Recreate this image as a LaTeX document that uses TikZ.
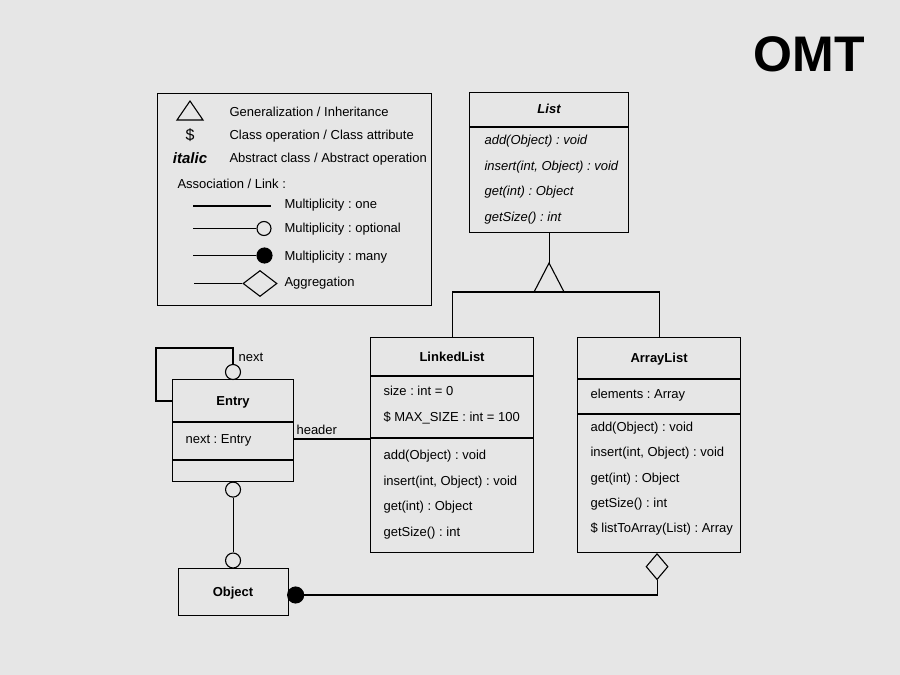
\documentclass[tikz,border=0pt]{standalone}
\usepackage{fontspec}
\setmainfont{Liberation Sans}
\usetikzlibrary{shapes.geometric}
\definecolor{bg}{RGB}{230,230,230}

\begin{document}
\frenchspacing
\fontsize{13}{15}\selectfont
\begin{tikzpicture}[x=1pt, y=-1pt, line width=1.1pt,
  cls/.style={draw, anchor=north west, inner sep=0},
  member/.style={anchor=west, inner sep=0, text height=9, text depth=0},
  cname/.style={inner sep=0, text height=9, text depth=0, font=\bfseries},
  opt/.style={circle, draw, fill=bg, minimum size=15pt, inner sep=0},
  many/.style={circle, draw, fill=black, minimum size=16pt, inner sep=0},
  agg/.style={diamond, draw, fill=bg, inner sep=0}]
\fill[bg] (0,0) rectangle (900,675);

\node[inner sep=0, font=\fontsize{50}{50}\selectfont\bfseries] (omt) at (809,54) {OMT};

\node[draw, anchor=north west, minimum width=274pt, minimum height=212pt, inner sep=0] (legend) at (157,93) {};
\draw (190,101) -- (177,120) -- (203,120) -- cycle;
\node[inner sep=0, font=\fontsize{16}{16}\selectfont] (dollar) at (190,135) {\$};
\node[inner sep=0, font=\fontsize{15}{15}\selectfont\bfseries\itshape] (ital) at (190,158) {italic};
\node[member] (gentxt) at (229,112) {Generalization / Inheritance};
\node[member] (clstxt) at (229,135) {Class operation / Class attribute};
\node[member] (abstxt) at (229,158) {Abstract class / Abstract operation};
\node[member] (assoctxt) at (177,184) {Association / Link :};

\draw (193,206) -- (271,206);
\node[opt, minimum size=14pt] (lopt) at (264,228.5) {};
\draw (193,228.5) -- (lopt);
\node[many, minimum size=15pt] (lmany) at (264.5,255.5) {};
\draw (193,255.5) -- (lmany);
\node[agg, minimum width=34pt, minimum height=26pt] (lagg) at (260,283.5) {};
\draw (194,283.5) -- (lagg);
\node[member] (onetxt) at (284,204) {Multiplicity : one};
\node[member] (opttxt) at (284,228) {Multiplicity : optional};
\node[member] (manytxt) at (284,256) {Multiplicity : many};
\node[member] (aggtxt) at (284,282) {Aggregation};

\node[cls, minimum width=159pt, minimum height=140pt] (list) at (469,92) {};
\draw (list.west |- 0,127) -- (list.east |- 0,127);
\node[cname, font=\bfseries\itshape] (listname) at (list.north |- 0,109) {List};
\foreach \t [count=\i] in {add(Object) : void, {insert(int, Object) : void}, get(int) : Object, getSize() : int}
  \node[member, font=\itshape] (listop\i) at (484, {140+25.5*(\i-1)}) {\t};

\node[cls, minimum width=163pt, minimum height=215pt] (linked) at (370,337) {};
\draw (linked.west |- 0,376) -- (linked.east |- 0,376);
\draw (linked.west |- 0,438) -- (linked.east |- 0,438);
\node[cname] (linkedname) at (linked.north |- 0,357) {LinkedList};
\node[member] (llsize) at (383,391) {size : int = 0};
\node[member] (llmax) at (383,417) {\$ MAX\_SIZE : int = 100};
\foreach \t [count=\i] in {add(Object) : void, {insert(int, Object) : void}, get(int) : Object, getSize() : int}
  \node[member] (llop\i) at (383, {455+25.5*(\i-1)}) {\t};

\node[cls, minimum width=163pt, minimum height=215pt] (array) at (577,337) {};
\draw (array.west |- 0,379) -- (array.east |- 0,379);
\draw (array.west |- 0,414) -- (array.east |- 0,414);
\node[cname] (arrayname) at (array.north |- 0,358) {ArrayList};
\node[member] (alelem) at (590,394) {elements : Array};
\foreach \t [count=\i] in {add(Object) : void, {insert(int, Object) : void}, get(int) : Object, getSize() : int, \$ listToArray(List) : Array}
  \node[member] (alop\i) at (590, {427+25.25*(\i-1)}) {\t};

\node[cls, minimum width=121pt, minimum height=102pt] (entry) at (172,379) {};
\draw (entry.west |- 0,422) -- (entry.east |- 0,422);
\draw (entry.west |- 0,460) -- (entry.east |- 0,460);
\node[cname] (entryname) at (entry.north |- 0,401) {Entry};
\node[member] (entrynext) at (185,439) {next : Entry};

\node[cls, minimum width=110pt, minimum height=47pt] (object) at (177.5,568) {};
\node[cname] (objectname) at (object.center) {Object};

\coordinate (genapex) at (list.south |- 0,263);
\coordinate (genbase) at (list.south |- 0,292);
\draw (list.south) -- (genapex);
\draw (genapex) -- ([xshift=-15pt]genbase) -- ([xshift=15pt]genbase) -- cycle;
\draw (linked.north) |- (genbase) -| (array.north);

\node[opt] (nexto) at (233,372) {};
\draw (nexto.north) |- ++(-77,-16) |- (entry.west |- 0,401);
\node[member] (nextlbl) at (238,357) {next};

\draw (entry.east |- 0,439) -- (linked.west |- 0,439);
\node[member] (hdrlbl) at (296,430) {header};

\node[opt] (entryo) at ([yshift=-7.5pt]entry.south) {};
\node[opt] (objo) at ([yshift=7.5pt]object.north) {};
\draw (entryo) -- (objo);

\node[many, anchor=west, xshift=-1.5pt] (objm) at (object.east |- 0,595) {};
\node[agg, minimum width=22pt, minimum height=26pt, anchor=north] (arrayd) at ([xshift=-2pt]array.south) {};
\draw (objm) -| (arrayd.south);

\end{tikzpicture}
\end{document}
